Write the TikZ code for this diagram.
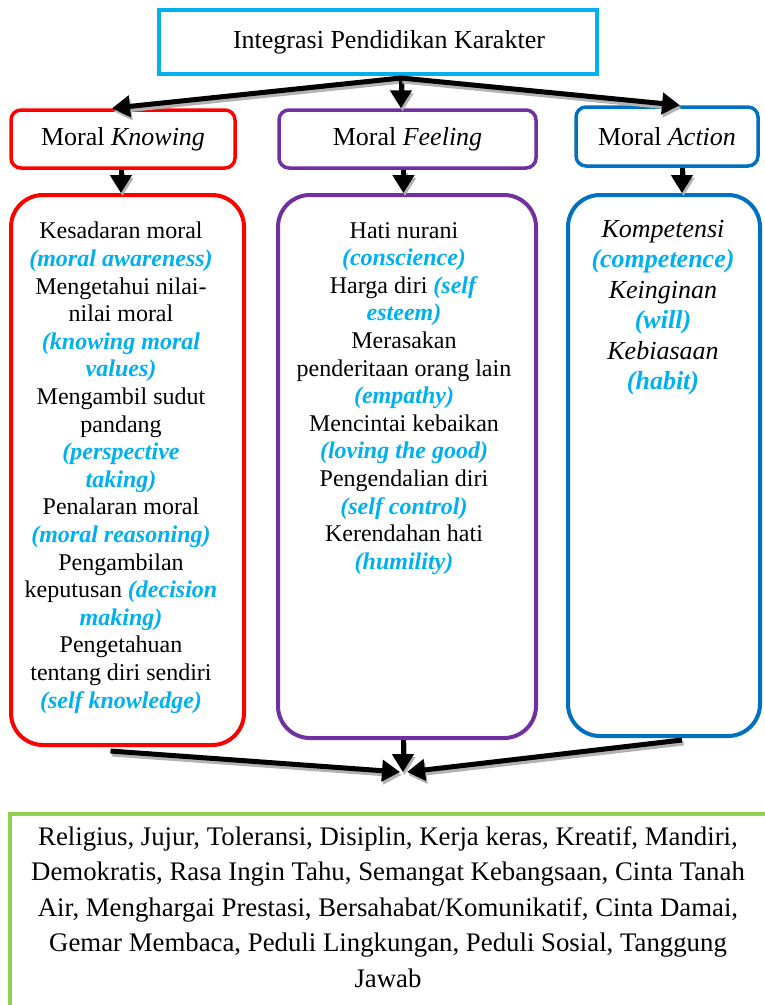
\documentclass[tikz,border=0pt]{standalone}
\usepackage{fontspec}
\setmainfont{Liberation Serif}
\usetikzlibrary{arrows.meta}
\definecolor{topcyan}{HTML}{00B0F0}
\definecolor{knowred}{HTML}{FF0000}
\definecolor{feelpurple}{HTML}{7030A0}
\definecolor{actblue}{HTML}{0070C0}
\definecolor{valgreen}{HTML}{92D050}
\newcommand{\en}[1]{\textcolor{topcyan}{\textbf{\textit{#1}}}}
\begin{document}
\begin{tikzpicture}[x=1pt, y=-1pt,
    head/.style={draw, line width=3.5pt, rounded corners=10pt, inner sep=0pt, font=\fontsize{26}{30}\selectfont},
    body/.style={draw, line width=4pt, rounded corners=32pt, inner sep=0pt},
    list/.style={anchor=north, align=center, inner sep=0pt, font=\fontsize{24}{27.6}\selectfont},
    arr/.style={line width=5pt, -{Triangle[length=18pt,width=21pt]},
        preaction={draw=gray!60, line width=5pt, -{Triangle[length=18pt,width=21pt]}, transform canvas={shift={(1.5pt,-3pt)}}}}]
\clip (0,0) rectangle (765,1005);
\fill[white] (0,0) rectangle (765,1005);

\node[head, draw=topcyan, line width=4pt, rounded corners=0pt, minimum width=438pt, minimum height=64pt] (int) at (378,42) {\hspace*{22pt}Integrasi Pendidikan Karakter};
\node[head, draw=knowred, minimum width=224pt, minimum height=58pt] (know) at (123,139) {Moral \textit{Knowing}};
\node[head, draw=feelpurple, minimum width=257pt, minimum height=58pt] (feel) at (407.5,139) {Moral \textit{Feeling}};
\node[head, draw=actblue, minimum width=182pt, minimum height=59pt] (act) at (667,136.5) {Moral \textit{Action}};

\node[body, draw=knowred, minimum width=233pt, minimum height=550pt] (kbox) at (127.5,470) {};
\node[body, draw=feelpurple, minimum width=258pt, minimum height=543pt] (fbox) at (407,466.5) {};
\node[body, draw=actblue, minimum width=192pt, minimum height=541pt] (abox) at (664,465.5) {};
\node[draw=valgreen, line width=4pt, minimum width=770pt, minimum height=206pt] (vals) at (395,917) {};

\node[list] (ktext) at (121,222) {Kesadaran moral\\
\en{(moral awareness)}\\
Mengetahui nilai-\\
nilai moral\\
\en{(knowing moral}\\
\en{values)}\\
Mengambil sudut\\
pandang\\
\en{(perspective}\\
\en{taking)}\\
Penalaran moral\\
\en{(moral reasoning)}\\
Pengambilan\\
keputusan \en{(decision}\\
\en{making)}\\
Pengetahuan\\
tentang diri sendiri\\
\en{(self knowledge)}};
\node[list] (ftext) at (404,222) {Hati nurani\\
\en{(conscience)}\\
Harga diri \en{(self}\\
\en{esteem)}\\
Merasakan\\
penderitaan orang lain\\
\en{(empathy)}\\
Mencintai kebaikan\\
\en{(loving the good)}\\
Pengendalian diri\\
\en{(self control)}\\
Kerendahan hati\\
\en{(humility)}};
\node[list, font=\fontsize{26}{30.5}\selectfont] (atext) at (663,220) {\textit{Kompetensi}\\
\en{(competence)}\\
\textit{Keinginan}\\
\en{(will)}\\
\textit{Kebiasaan}\\
\en{(habit)}};
\node[list, font=\fontsize{26.8}{35.5}\selectfont] (vtext) at (388,826) {Religius, Jujur, Toleransi, Disiplin, Kerja keras, Kreatif, Mandiri,\\
Demokratis, Rasa Ingin Tahu, Semangat Kebangsaan, Cinta Tanah\\
Air, Menghargai Prestasi, Bersahabat/Komunikatif, Cinta Damai,\\
Gemar Membaca, Peduli Lingkungan, Peduli Sosial, Tanggung\\
Jawab};

% arrows
\coordinate (split) at (401,78);
\coordinate (meet) at (403,772);
\draw[arr] (split) -- ([xshift=-11pt]know.north);
\draw[arr] (split) -- (split |- feel.north);
\draw[arr] (split) -- ([xshift=13pt]act.north);
\draw[arr] ([xshift=-2pt]know.south) -- ([xshift=-2pt]know.south |- kbox.north);
\draw[arr] ([xshift=-4pt]feel.south) -- ([xshift=-4pt]feel.south |- fbox.north);
\draw[arr] ([xshift=15pt]act.south) -- ([xshift=15pt]act.south |- abox.north);
\draw[arr] ([xshift=-17pt,yshift=-4pt]kbox.south) -- ([xshift=-3pt]meet);
\draw[arr] (fbox.south -| meet) -- (meet);
\draw[arr] ([xshift=18pt,yshift=-2pt]abox.south) -- ([xshift=4pt]meet);
\end{tikzpicture}
\end{document}
